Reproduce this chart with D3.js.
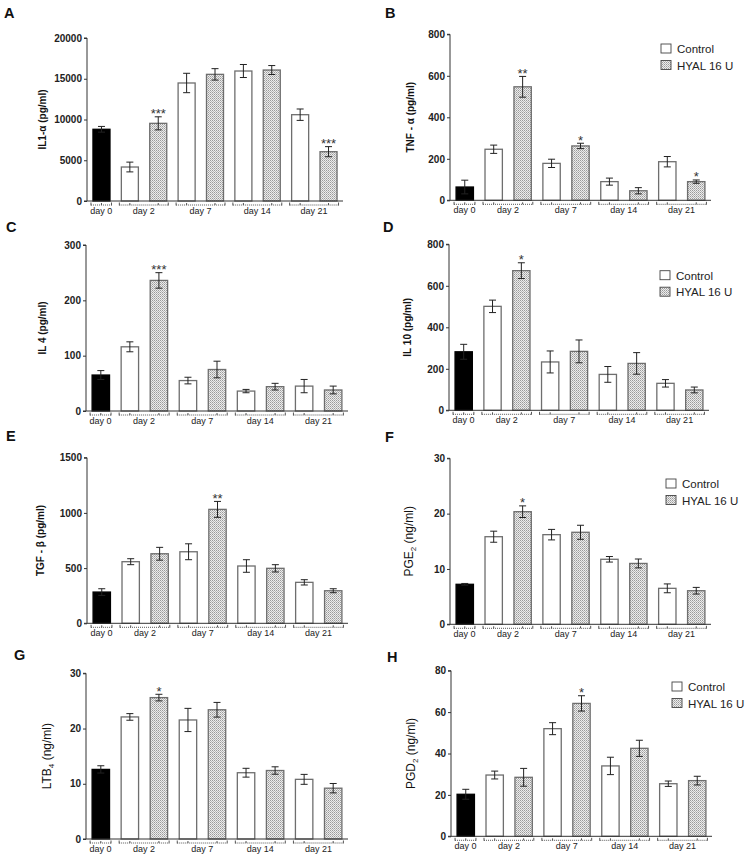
<!DOCTYPE html>
<html><head><meta charset="utf-8">
<script src="https://cdn.jsdelivr.net/npm/d3@7/dist/d3.min.js"></script>
<style>
body{margin:0;background:#fff;}
svg{display:block;font-family:Arial,"Liberation Sans",sans-serif;}
</style></head>
<body>
<svg id="chart" width="748" height="858"></svg>
<script>
// ---- shared categories ----
const days = ["day 0", "day 2", "day 7", "day 14", "day 21"];
const barGroup = [0, 1, 1, 2, 2, 3, 3, 4, 4];
const barType = ["base", "ctrl", "hyal", "ctrl", "hyal", "ctrl", "hyal", "ctrl", "hyal"];
const legendLabels = ["Control", "HYAL 16 U"];

// ---- values (mean, SEM, significance) ----
const il1Mean = [8800, 4170, 9530, 14480, 15540, 15950, 16070, 10590, 6050];
const il1Err  = [350, 600, 800, 1190, 700, 800, 550, 700, 620];
const il1Sig  = ["", "", "***", "", "", "", "", "", "***"];
const il1Ticks = [0, 5000, 10000, 15000, 20000];

const tnfMean = [64, 246, 547, 178, 262, 90, 46, 186, 90];
const tnfErr  = [33, 20, 50, 20, 13, 17, 15, 25, 8];
const tnfSig  = ["", "", "**", "", "*", "", "", "", "*"];
const tnfTicks = [0, 200, 400, 600, 800];

const il4Mean = [65, 116, 236, 55, 75, 36, 44, 45, 38];
const il4Err  = [8, 9, 14, 6, 15, 3, 6, 12, 7];
const il4Sig  = ["", "", "***", "", "", "", "", "", ""];
const il4Ticks = [0, 100, 200, 300];

const il10Mean = [282, 501, 673, 233, 284, 173, 226, 130, 98];
const il10Err  = [36, 30, 38, 53, 55, 38, 52, 18, 14];
const il10Sig  = ["", "", "*", "", "", "", "", "", ""];
const il10Ticks = [0, 200, 400, 600, 800];

const tgfMean = [283, 558, 630, 648, 1032, 519, 498, 371, 295];
const tgfErr  = [30, 27, 58, 72, 72, 57, 33, 24, 18];
const tgfSig  = ["", "", "", "", "**", "", "", "", ""];
const tgfTicks = [0, 500, 1000, 1500];

const pge2Mean = [7.23, 15.83, 20.35, 16.2, 16.63, 11.75, 11.0, 6.5, 6.07];
const pge2Err  = [0.15, 1.0, 1.05, 0.95, 1.27, 0.5, 0.8, 0.8, 0.6];
const pge2Sig  = ["", "", "*", "", "", "", "", "", ""];
const pge2Ticks = [0, 10, 20, 30];

const ltb4Mean = [12.6, 22.1, 25.6, 21.55, 23.4, 12.0, 12.4, 10.8, 9.2];
const ltb4Err  = [0.66, 0.6, 0.6, 2.1, 1.33, 0.8, 0.67, 0.9, 0.85];
const ltb4Sig  = ["", "", "*", "", "", "", "", "", ""];
const ltb4Ticks = [0, 10, 20, 30];

const pgd2Mean = [20.3, 29.6, 28.5, 52, 64.2, 34, 42.5, 25.4, 26.9];
const pgd2Err  = [2.4, 1.9, 4.3, 2.9, 3.7, 4.2, 3.9, 1.3, 2.1];
const pgd2Sig  = ["", "", "", "", "*", "", "", "", ""];
const pgd2Ticks = [0, 20, 40, 60, 80];

// ---- layout of panels ----
const panels = [
  {letter:"A", lx:4, ly:18, x0:87, x1:343, yTop:38, y0:201, mean:il1Mean, err:il1Err, sig:il1Sig, ticks:il1Ticks,
   label:[["IL1-α (pg/ml)"]], labX:46, bold:true, legend:null},
  {letter:"B", lx:385, ly:18, x0:450, x1:711, yTop:34.3, y0:200.3, mean:tnfMean, err:tnfErr, sig:tnfSig, ticks:tnfTicks,
   label:[["TNF - α (pg/ml)"]], labX:413.5, bold:true, legend:{x:661, y:44}},
  {letter:"C", lx:6, ly:232, x0:86, x1:348, yTop:245, y0:411, mean:il4Mean, err:il4Err, sig:il4Sig, ticks:il4Ticks,
   label:[["IL 4 (pg/ml)"]], labX:46, bold:true, legend:null},
  {letter:"D", lx:383, ly:232, x0:449, x1:709, yTop:244.3, y0:410.3, mean:il10Mean, err:il10Err, sig:il10Sig, ticks:il10Ticks,
   label:[["IL 10 (pg/ml)"]], labX:410.5, bold:true, legend:{x:660, y:270.7}},
  {letter:"E", lx:6, ly:441, x0:87, x1:348, yTop:457.7, y0:623.3, mean:tgfMean, err:tgfErr, sig:tgfSig, ticks:tgfTicks,
   label:[["TGF - β (pg/ml)"]], labX:43.5, bold:true, legend:null},
  {letter:"F", lx:385, ly:442, x0:450, x1:711, yTop:458.3, y0:624.3, mean:pge2Mean, err:pge2Err, sig:pge2Sig, ticks:pge2Ticks,
   label:[["PGE"],["2","sub"],[" (ng/ml)"]], labX:413, bold:false, legend:{x:666, y:479}},
  {letter:"G", lx:14, ly:660, x0:86, x1:348, yTop:673.3, y0:839, mean:ltb4Mean, err:ltb4Err, sig:ltb4Sig, ticks:ltb4Ticks,
   label:[["LTB"],["4","sub"],[" (ng/ml)"]], labX:50.5, bold:false, legend:null},
  {letter:"H", lx:387, ly:662, x0:451, x1:712, yTop:670.7, y0:836.3, mean:pgd2Mean, err:pgd2Err, sig:pgd2Sig, ticks:pgd2Ticks,
   label:[["PGD"],["2","sub"],[" (ng/ml)"]], labX:415, bold:false, legend:{x:672, y:682}}
];

const svg = d3.select("#chart");
const defs = svg.append("defs");
const pat = defs.append("pattern").attr("id","dots").attr("patternUnits","userSpaceOnUse")
  .attr("width",2).attr("height",2);
pat.append("rect").attr("width",2).attr("height",2).attr("fill","#ececec");
pat.append("rect").attr("width",1).attr("height",1).attr("fill","#9a9a9a");
pat.append("rect").attr("x",1).attr("y",1).attr("width",1).attr("height",1).attr("fill","#b8b8b8");

const fillFor = t => t === "base" ? "#000" : (t === "ctrl" ? "#fff" : "url(#dots)");
const strokeFor = t => t === "base" ? "#000" : "#6e6e6e";

panels.forEach(p => {
  const g = svg.append("g");
  const idx = d3.range(p.mean.length);
  const x = d3.scaleBand().domain(idx).range([p.x0, p.x1]).paddingInner(0.4).paddingOuter(0.21);
  const yMax = p.ticks[p.ticks.length - 1];
  const y = d3.scaleLinear().domain([0, yMax]).range([p.y0, p.yTop]);

  // panel letter
  g.append("text").attr("x", p.lx).attr("y", p.ly).attr("font-size", 14.5).attr("font-weight", "bold")
    .attr("fill", "#111").text(p.letter);

  // bars
  g.selectAll("rect.bar").data(idx).join("rect").attr("class","bar")
    .attr("x", i => x(i)).attr("width", x.bandwidth())
    .attr("y", i => y(p.mean[i])).attr("height", i => p.y0 - y(p.mean[i]))
    .attr("fill", i => fillFor(barType[i])).attr("stroke", i => strokeFor(barType[i]))
    .attr("stroke-width", 1.3);

  // error bars
  const eb = g.selectAll("g.eb").data(idx).join("g").attr("class","eb")
    .attr("stroke", "#222").attr("stroke-width", 1);
  eb.append("line").attr("x1", i => x(i) + x.bandwidth()/2).attr("x2", i => x(i) + x.bandwidth()/2)
    .attr("y1", i => y(p.mean[i] + p.err[i])).attr("y2", i => y(p.mean[i] - p.err[i]));
  eb.append("line").attr("x1", i => x(i) + x.bandwidth()/2 - 3.5).attr("x2", i => x(i) + x.bandwidth()/2 + 3.5)
    .attr("y1", i => y(p.mean[i] + p.err[i])).attr("y2", i => y(p.mean[i] + p.err[i]));
  eb.append("line").attr("x1", i => x(i) + x.bandwidth()/2 - 3.5).attr("x2", i => x(i) + x.bandwidth()/2 + 3.5)
    .attr("y1", i => y(p.mean[i] - p.err[i])).attr("y2", i => y(p.mean[i] - p.err[i]));

  // significance stars
  g.selectAll("text.sig").data(idx.filter(i => p.sig[i])).join("text").attr("class","sig")
    .attr("x", i => x(i) + x.bandwidth()/2).attr("y", i => y(p.mean[i] + p.err[i]) + 1.5)
    .attr("text-anchor","middle").attr("font-size", 13).attr("fill", "#333").text(i => p.sig[i]);

  // y axis
  const ax = g.append("g").attr("transform", `translate(${p.x0},0)`)
    .call(d3.axisLeft(y).tickValues(p.ticks).tickSize(3).tickPadding(2).tickFormat(d3.format("d")));
  ax.select(".domain").attr("stroke", "#333").attr("d", `M-3,${p.yTop}H0V${p.y0}H-3`);
  ax.selectAll(".tick line").attr("stroke", "#333");
  ax.selectAll(".tick text").attr("font-size", 10).attr("font-weight", "bold").attr("fill", "#222")
    .attr("font-family", "Arial, 'Liberation Sans', sans-serif");

  // x axis line
  g.append("line").attr("x1", p.x0).attr("x2", p.x1).attr("y1", p.y0).attr("y2", p.y0)
    .attr("stroke", "#333").attr("stroke-width", 1);

  // day brackets
  days.forEach((d, k) => {
    const members = idx.filter(i => barGroup[i] === k);
    const bx1 = x(members[0]) - 2;
    const bx2 = x(members[members.length - 1]) + x.bandwidth() + 1.5;
    const by = p.y0 + 4;
    g.append("line").attr("x1", bx1).attr("x2", bx2).attr("y1", by).attr("y2", by)
      .attr("stroke", "#444").attr("stroke-width", 0.9).attr("stroke-dasharray", "1,1");
    [bx1, bx2].forEach(xx => g.append("line").attr("x1", xx).attr("x2", xx).attr("y1", by - 2.5).attr("y2", by + 0.5)
      .attr("stroke", "#444").attr("stroke-width", 0.9));
    members.forEach(i => g.append("line").attr("x1", x(i) + x.bandwidth()/2).attr("x2", x(i) + x.bandwidth()/2)
      .attr("y1", by - 2).attr("y2", by).attr("stroke", "#444").attr("stroke-width", 0.9));
    g.append("text").attr("x", (bx1 + bx2)/2).attr("y", p.y0 + 13).attr("text-anchor","middle")
      .attr("font-size", 9).attr("fill", "#222").text(d);
  });

  // y label
  const lab = g.append("text").attr("transform", `translate(${p.labX},${(p.yTop + p.y0)/2}) rotate(-90)`)
    .attr("text-anchor","middle").attr("fill", "#111")
    .attr("font-size", p.bold ? 10 : 12).attr("font-weight", p.bold ? "bold" : "normal");
  let shifted = false;
  p.label.forEach(part => {
    const t = lab.append("tspan").text(part[0]);
    if (part[1] === "sub") { t.attr("font-size", 8).attr("dy", 3); shifted = true; }
    else if (shifted) { t.attr("dy", -3); shifted = false; }
  });

  // legend
  if (p.legend) {
    legendLabels.forEach((name, k) => {
      const ly = p.legend.y + k * 16.5;
      g.append("rect").attr("x", p.legend.x).attr("y", ly).attr("width", 10).attr("height", 9)
        .attr("fill", k === 0 ? "#fff" : "url(#dots)").attr("stroke", "#444").attr("stroke-width", 0.9);
      g.append("text").attr("x", p.legend.x + 16).attr("y", ly + 9).attr("font-size", 11.5)
        .attr("fill", "#222").text(name);
    });
  }
});
</script>
</body></html>
